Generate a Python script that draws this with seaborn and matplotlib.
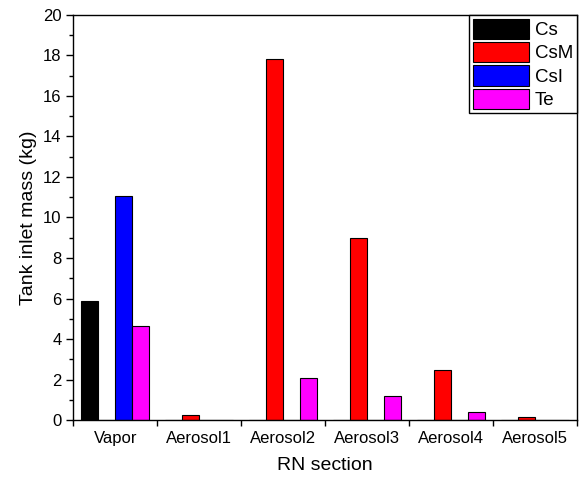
import pandas as pd
import numpy as np
import matplotlib.pyplot as plt
import seaborn as sns
from matplotlib.ticker import MultipleLocator, FixedLocator

sections = ['Vapor', 'Aerosol1', 'Aerosol2', 'Aerosol3', 'Aerosol4', 'Aerosol5']
species = ['Cs', 'CsM', 'CsI', 'Te']
cs = [5.88, 0.0, 0.0, 0.0, 0.0, 0.0]
csm = [0.0, 0.25, 17.84, 8.98, 2.47, 0.13]
csi = [11.07, 0.0, 0.0, 0.0, 0.0, 0.0]
te = [4.65, 0.02, 2.08, 1.2, 0.38, 0.02]
colors = ['#000000', '#ff0000', '#0000ff', '#ff00ff']

df = pd.DataFrame({'section': sections * 4,
                   'species': np.repeat(species, len(sections)),
                   'mass': cs + csm + csi + te})

sns.set_style('ticks', {'text.color': 'black', 'axes.labelcolor': 'black',
                        'xtick.color': 'black', 'ytick.color': 'black',
                        'axes.edgecolor': 'black'})
plt.rcParams['font.family'] = ['Liberation Sans', 'DejaVu Sans']

fig = plt.figure(figsize=(5.81, 4.79), dpi=100)
ax = fig.add_axes([0.126, 0.123, 0.867, 0.846])
sns.barplot(data=df, x='section', y='mass', hue='species', palette=colors,
            saturation=1, width=0.81, edgecolor='black', linewidth=0.8, ax=ax)

ax.set_xlim(-0.5, 5.5)
ax.set_ylim(0, 20)
ax.yaxis.set_major_locator(MultipleLocator(2))
ax.yaxis.set_minor_locator(MultipleLocator(1))
ax.xaxis.set_minor_locator(FixedLocator(np.arange(-0.5, 6, 1)))
ax.tick_params(axis='x', which='major', length=0, labelsize=12, pad=8)
ax.tick_params(axis='x', which='minor', length=4, direction='out', width=1)
ax.tick_params(axis='y', which='major', length=5, labelsize=12, width=1)
ax.tick_params(axis='y', which='minor', length=3, width=1)
for s in ax.spines.values():
    s.set_visible(True)
    s.set_linewidth(1)
    s.set_color('black')

ax.set_xlabel('RN section', fontsize=14, labelpad=8)
ax.set_ylabel('Tank inlet mass (kg)', fontsize=14)

leg = ax.legend(loc='upper right', fontsize=13.5, frameon=True, fancybox=False,
                edgecolor='black', borderaxespad=0, handlelength=3.0,
                handleheight=1.3, labelspacing=0.15, handletextpad=0.3,
                borderpad=0.2)
leg.get_frame().set_linewidth(1)
leg.get_frame().set_alpha(1)

plt.savefig('out.png', dpi=100)
